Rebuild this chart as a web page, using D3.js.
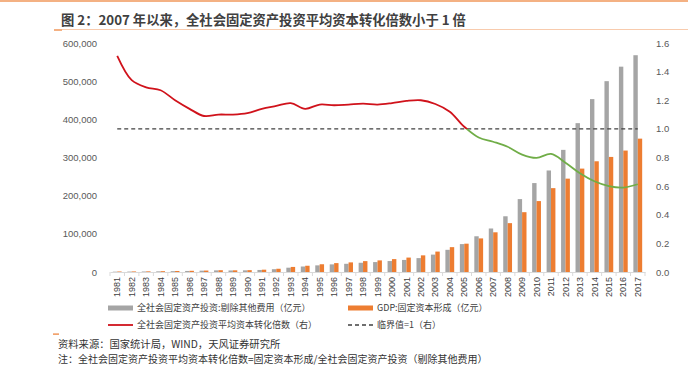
<!DOCTYPE html>
<html>
<head>
<meta charset="utf-8">
<script src="https://cdn.jsdelivr.net/npm/d3@7"></script>
<style>
  body { margin: 0; background: #fff; }
  svg { display: block; }
</style>
</head>
<body>
<script>
var years = [];
for (var y = 1981; y <= 2017; y++) { years.push(String(y)); }

// 全社会固定资产投资:剔除其他费用（亿元）
var investValues = [880, 1120, 1340, 1690, 2230, 2750, 3490, 4280, 4020, 4350,
    5330, 7340, 11280, 14400, 17400, 20000, 21500, 24200, 26000, 28700,
    31600, 36400, 45600, 58100, 73100, 93600, 114000, 146000, 191000, 233000,
    266000, 320000, 390000, 453000, 500000, 538000, 568000];

// GDP:固定资本形成（亿元）
var gfcfValues = [1340, 1500, 1720, 2150, 2670, 3140, 3800, 4700, 4420, 4830,
    6070, 8510, 13300, 16400, 20300, 23300, 25200, 28500, 30400, 33800,
    37800, 43600, 53500, 65100, 74200, 88000, 104000, 128000, 156700, 185800,
    219700, 244600, 270900, 290100, 301500, 318200, 349400];

// 平均资本转化倍数（右）
var ratioValues = [1.51, 1.34, 1.29, 1.27, 1.20, 1.14, 1.09, 1.10, 1.10, 1.11,
    1.14, 1.16, 1.18, 1.14, 1.17, 1.165, 1.17, 1.176, 1.17, 1.18,
    1.195, 1.20, 1.174, 1.12, 1.015, 0.94, 0.91, 0.875, 0.82, 0.797,
    0.825, 0.764, 0.69, 0.634, 0.60, 0.59, 0.613];

var leftTicks = [0, 100000, 200000, 300000, 400000, 500000, 600000];
var rightTicks = [0, 0.2, 0.4, 0.6, 0.8, 1.0, 1.2, 1.4, 1.6];
var threshold = 1;

var w = 688;
var h = 376;
var margin = { left: 110, right: 43, top: 43, bottom: 104 };

var fontCn = "'Noto Sans CJK SC', 'Noto Sans', sans-serif";
var fontNum = "'Liberation Sans', Arial, sans-serif";

var svg = d3.select("body")
    .append("svg")
    .attr("width", w)
    .attr("height", h);

// header decorations
svg.append("rect").attr("x", 0).attr("y", 0).attr("width", w).attr("height", 2).attr("fill", "#F4B183");
svg.append("line").attr("x1", 54).attr("x2", w).attr("y1", 29.5).attr("y2", 29.5)
    .attr("stroke", "#F8CBAD").attr("stroke-width", 1);
svg.append("rect").attr("x", 54).attr("y", 29).attr("width", 8).attr("height", 2).attr("fill", "#F4B183");

svg.append("text")
    .attr("x", 61)
    .attr("y", 25)
    .attr("font-family", fontCn)
    .attr("font-size", 13.3)
    .attr("font-weight", "bold")
    .attr("fill", "#404040")
    .text("图 2：2007 年以来，全社会固定资产投资平均资本转化倍数小于 1 倍");

var x = d3.scaleBand()
    .domain(years)
    .range([margin.left, w - margin.right])
    .paddingInner(0)
    .paddingOuter(0);

var yLeft = d3.scaleLinear()
    .domain([0, 600000])
    .range([h - margin.bottom, margin.top]);

var yRight = d3.scaleLinear()
    .domain([0, 1.6])
    .range([h - margin.bottom, margin.top]);

var barW = 4.4;

svg.append("g").selectAll("rect")
    .data(investValues)
    .enter()
    .append("rect")
    .attr("x", function (d, i) { return x(years[i]) + x.bandwidth() / 2 - barW; })
    .attr("y", function (d) { return yLeft(d); })
    .attr("width", barW)
    .attr("height", function (d) { return yLeft(0) - yLeft(d); })
    .attr("fill", "#A5A5A5");

svg.append("g").selectAll("rect")
    .data(gfcfValues)
    .enter()
    .append("rect")
    .attr("x", function (d, i) { return x(years[i]) + x.bandwidth() / 2; })
    .attr("y", function (d) { return yLeft(d); })
    .attr("width", barW)
    .attr("height", function (d) { return yLeft(0) - yLeft(d); })
    .attr("fill", "#ED7D31");

// left axis
var leftAxis = d3.axisLeft(yLeft)
    .tickValues(leftTicks)
    .tickSize(0)
    .tickPadding(13)
    .tickFormat(function (d) { return d === 0 ? "0" : d3.format(",")(d); });

var gl = svg.append("g")
    .attr("transform", "translate(" + margin.left + ",0)")
    .call(leftAxis);
gl.select(".domain").remove();
gl.selectAll("text").attr("font-family", fontNum).attr("font-size", 9.5).attr("fill", "#595959");

// right axis
var rightAxis = d3.axisRight(yRight)
    .tickValues(rightTicks)
    .tickSize(0)
    .tickPadding(11)
    .tickFormat(d3.format(".1f"));

var gr = svg.append("g")
    .attr("transform", "translate(" + (w - margin.right) + ",0)")
    .call(rightAxis);
gr.select(".domain").remove();
gr.selectAll("text").attr("font-family", fontNum).attr("font-size", 9.5).attr("fill", "#595959");

// x axis
var xAxis = d3.axisBottom(x).tickSize(0).tickPadding(0);
var gx = svg.append("g")
    .attr("transform", "translate(0," + (h - margin.bottom) + ")")
    .call(xAxis);
gx.select(".domain").attr("stroke", "#D9D9D9");
gx.selectAll("text")
    .attr("font-family", fontNum)
    .attr("font-size", 9)
    .attr("fill", "#404040")
    .attr("text-anchor", "end")
    .attr("dy", "0.35em")
    .attr("transform", "translate(0,5) rotate(-90)");

svg.append("g").selectAll("line")
    .data(years.concat(["end"]))
    .enter()
    .append("line")
    .attr("x1", function (d, i) { return margin.left + i * x.step(); })
    .attr("x2", function (d, i) { return margin.left + i * x.step(); })
    .attr("y1", h - margin.bottom)
    .attr("y2", h - margin.bottom + 4)
    .attr("stroke", "#D9D9D9");

// threshold dashed line
var cx0 = x(years[0]) + x.bandwidth() / 2;
var cx1 = x(years[years.length - 1]) + x.bandwidth() / 2;
svg.append("line")
    .attr("x1", cx0)
    .attr("x2", cx1)
    .attr("y1", yRight(threshold))
    .attr("y2", yRight(threshold))
    .attr("stroke", "#404040")
    .attr("stroke-width", 1.3)
    .attr("stroke-dasharray", "4,3");

// ratio line: red above 1, green below
var defs = svg.append("defs");
defs.append("clipPath").attr("id", "clipAbove")
    .append("rect").attr("x", 0).attr("y", 0).attr("width", w).attr("height", yRight(threshold));
defs.append("clipPath").attr("id", "clipBelow")
    .append("rect").attr("x", 0).attr("y", yRight(threshold)).attr("width", w).attr("height", h);

var line = d3.line()
    .x(function (d, i) { return x(years[i]) + x.bandwidth() / 2; })
    .y(function (d) { return yRight(d); })
    .curve(d3.curveCatmullRom.alpha(0.5));

svg.append("path")
    .attr("d", line(ratioValues))
    .attr("fill", "none")
    .attr("stroke", "#D0121B")
    .attr("stroke-width", 1.8)
    .attr("clip-path", "url(#clipAbove)");

svg.append("path")
    .attr("d", line(ratioValues))
    .attr("fill", "none")
    .attr("stroke", "#70AD47")
    .attr("stroke-width", 1.8)
    .attr("clip-path", "url(#clipBelow)");

// legend
var legend = [
    { label: "全社会固定资产投资:剔除其他费用（亿元）", type: "bar", color: "#A5A5A5", x: 108, y: 308 },
    { label: "GDP:固定资本形成（亿元）", type: "bar", color: "#ED7D31", x: 348, y: 308 },
    { label: "全社会固定资产投资平均资本转化倍数（右）", type: "line", color: "#D0121B", x: 108, y: 325 },
    { label: "临界值=1（右）", type: "dash", color: "#404040", x: 348, y: 325 }
];

var lg = svg.append("g").selectAll("g")
    .data(legend)
    .enter()
    .append("g")
    .attr("transform", function (d) { return "translate(" + d.x + "," + d.y + ")"; });

lg.filter(function (d) { return d.type === "bar"; })
    .append("rect")
    .attr("x", 0).attr("y", -2.5).attr("width", 25).attr("height", 5)
    .attr("fill", function (d) { return d.color; });

lg.filter(function (d) { return d.type !== "bar"; })
    .append("line")
    .attr("x1", 0).attr("x2", 25).attr("y1", 0).attr("y2", 0)
    .attr("stroke", function (d) { return d.color; })
    .attr("stroke-width", function (d) { return d.type === "dash" ? 1.3 : 1.8; })
    .attr("stroke-dasharray", function (d) { return d.type === "dash" ? "4,3" : null; });

lg.append("text")
    .attr("x", 29)
    .attr("y", 0)
    .attr("dy", "0.35em")
    .attr("font-family", fontCn)
    .attr("font-size", 9)
    .attr("fill", "#404040")
    .text(function (d) { return d.label; });

// footer
svg.append("rect").attr("x", 53).attr("y", 333.5).attr("width", 6).attr("height", 1.2).attr("fill", "#ED7D31");

svg.append("text")
    .attr("x", 58).attr("y", 344).attr("dy", "0.35em")
    .attr("font-family", fontCn).attr("font-size", 10.3).attr("fill", "#333")
    .text("资料来源：国家统计局，WIND，天风证券研究所");

svg.append("text")
    .attr("x", 58).attr("y", 359).attr("dy", "0.35em")
    .attr("font-family", fontCn).attr("font-size", 10).attr("fill", "#333")
    .text("注：全社会固定资产投资平均资本转化倍数=固定资本形成/全社会固定资产投资（剔除其他费用）");
</script>
</body>
</html>
